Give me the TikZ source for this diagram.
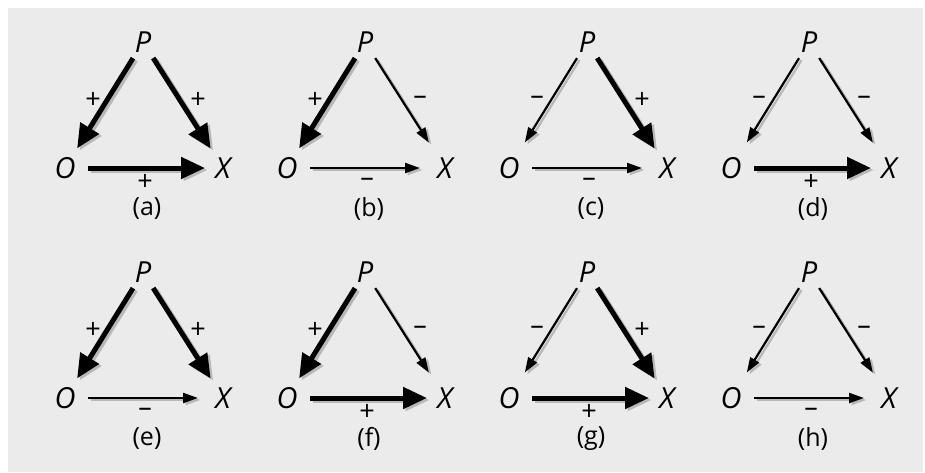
\documentclass[tikz,border=0pt]{standalone}
\usepackage{fontspec}
\setmainfont{Open Sans}
\usetikzlibrary{arrows.meta}
\definecolor{bg}{HTML}{EBEBEB}
\newcommand\mysgn[1]{\if p#1+\else –\fi}
\tikzset{
 thickarr/.style={line width=5pt, -{Triangle[length=24pt,width=21pt]}},
 thinarr/.style={line width=2.2pt, -{Triangle[length=15pt,width=10pt]}},
 po-p/.style={thickarr, shorten <=19pt, shorten >=23pt},
 po-m/.style={thinarr, shorten <=19pt, shorten >=30pt},
 ox-p/.style={thickarr, shorten <=23pt, shorten >=18pt},
 ox-m/.style={thinarr, shorten <=23pt, shorten >=25pt},
 shad/.style={draw=black!28, transform canvas={shift={(2.5,2)}}},
 vert/.style={font=\fontsize{29}{29}\selectfont\itshape, inner sep=0pt},
 sign/.style={font=\fontsize{27}{27}\selectfont, inner sep=0pt},
 captxt/.style={font=\fontsize{25}{25}\selectfont, inner sep=0pt},
}
\begin{document}
\begin{tikzpicture}[x=1pt,y=-1pt]
\useasboundingbox (0,0) rectangle (925,472);
\fill[bg] (8,8) rectangle (923,472);
\foreach \r/\c/\l/\sa/\sb/\sc in {0/0/a/p/p/p,0/1/b/p/m/m,0/2/c/m/p/m,0/3/d/m/m/p,1/0/e/p/p/m,1/1/f/p/m/p,1/2/g/m/p/p,1/3/h/m/m/m}{
 \pgfmathsetmacro\cx{143+222*\c}
 \pgfmathsetmacro\cy{230*\r}
 \node[vert] (P\l) at (\cx,\cy+42) {P};
 \node[vert] (O\l) at (\cx-78,\cy+168) {O};
 \node[vert] (X\l) at (\cx+80,\cy+168) {X};
 \draw[po-\sa, shad] (P\l.center) -- (O\l.center);
 \draw[po-\sb, shad] (P\l.center) -- (X\l.center);
 \draw[ox-\sc, shad] (O\l.center) -- (X\l.center);
 \draw[po-\sa] (P\l.center) -- (O\l.center);
 \draw[po-\sb] (P\l.center) -- (X\l.center);
 \draw[ox-\sc] (O\l.center) -- (X\l.center);
 \node[sign] (sa\l) at (\cx-50,\cy+100) {\mysgn\sa};
 \node[sign] (sb\l) at (\cx+55,\cy+100) {\mysgn\sb};
 \node[sign] (sc\l) at (\cx+2,\cy+182) {\mysgn\sc};
 \node[captxt] (cap\l) at (\cx+4,\cy+209) {(\l)};
}
\end{tikzpicture}
\end{document}
